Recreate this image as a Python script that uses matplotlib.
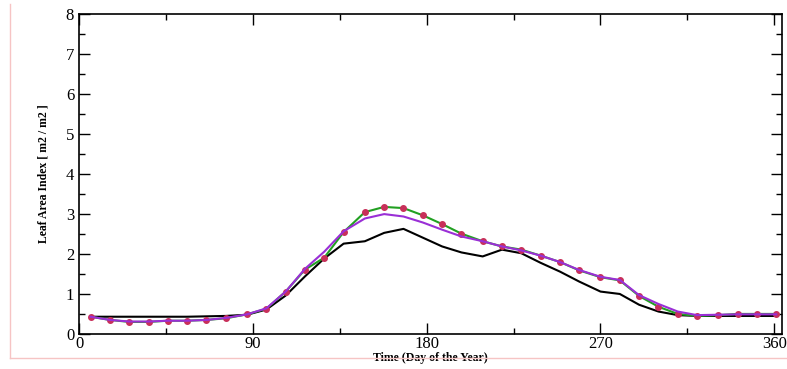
import numpy as np
import matplotlib
matplotlib.use("Agg")
import matplotlib.pyplot as plt
from matplotlib.lines import Line2D
from matplotlib.ticker import MultipleLocator

# dekad mid-points (day of year)
days = [6, 16, 26, 36, 46, 56, 66, 76, 87, 97, 107, 117, 127, 137, 148, 158, 168, 178,
        188, 198, 209, 219, 229, 239, 249, 259, 270, 280, 290, 300, 310, 320, 331, 341, 351, 361]

# black curve
lai_black = [0.42, 0.42, 0.42, 0.42, 0.42, 0.42, 0.43, 0.44, 0.47, 0.60, 0.95, 1.43, 1.88, 2.25,
             2.31, 2.52, 2.62, 2.40, 2.18, 2.03, 1.93, 2.10, 2.01, 1.77, 1.55, 1.30, 1.05, 0.99,
             0.72, 0.55, 0.46, 0.44, 0.44, 0.44, 0.44, 0.44]

# green curve (with red markers)
lai_green = [0.42, 0.34, 0.29, 0.29, 0.32, 0.32, 0.34, 0.38, 0.48, 0.62, 1.05, 1.60, 1.90, 2.54,
             3.04, 3.17, 3.14, 2.96, 2.74, 2.50, 2.31, 2.18, 2.10, 1.95, 1.79, 1.58, 1.41, 1.33,
             0.94, 0.67, 0.49, 0.44, 0.46, 0.49, 0.49, 0.49]

# purple curve
lai_purple = [0.42, 0.34, 0.30, 0.30, 0.32, 0.32, 0.34, 0.39, 0.48, 0.63, 1.05, 1.62, 2.05, 2.56,
              2.88, 2.99, 2.93, 2.78, 2.60, 2.43, 2.31, 2.18, 2.08, 1.95, 1.79, 1.59, 1.42, 1.34,
              0.96, 0.74, 0.55, 0.46, 0.47, 0.48, 0.48, 0.48]

plt.rcParams['font.family'] = ['Liberation Serif', 'DejaVu Serif']

fig = plt.figure(figsize=(7.87, 3.69), dpi=100)
ax = fig.add_axes([0.1004, 0.0962, 0.8933, 0.8658])

ax.plot(days, lai_black, color='black', lw=1.5, zorder=3)
ax.plot(days, lai_green, color='#22a022', lw=1.5, marker='o', ms=4,
        mfc='#c8305a', mec='#c8305a', zorder=4)
ax.plot(days, lai_purple, color='#9a2fd6', lw=1.5, zorder=5)

ax.set_xlim(0, 364)
ax.set_ylim(0, 8)
ax.xaxis.set_major_locator(MultipleLocator(90))
ax.xaxis.set_minor_locator(MultipleLocator(45))
ax.yaxis.set_major_locator(MultipleLocator(1))
ax.yaxis.set_minor_locator(MultipleLocator(0.5))
ax.tick_params(which='both', direction='in', top=True, right=True, labelsize=12, width=1)
ax.tick_params(which='major', length=8)
ax.tick_params(which='minor', length=4)
ax.tick_params(axis='x', pad=2)
for s in ax.spines.values():
    s.set_linewidth(1.2)

ax.set_xlabel('Time (Day of the Year)', fontsize=8.5, fontweight='bold', labelpad=0)
ax.set_ylabel('Leaf Area Index [ m2 / m2 ]', fontsize=8.5, fontweight='bold', labelpad=12)

# faint pink frame of the original figure
fig.add_artist(Line2D([10 / 787, 10 / 787], [1 - 4 / 369, 1 - 358 / 369],
                      transform=fig.transFigure, color='#f6c4c4', lw=1))
fig.add_artist(Line2D([10 / 787, 1.0], [1 - 358 / 369, 1 - 358 / 369],
                      transform=fig.transFigure, color='#f6c4c4', lw=1))

fig.savefig('out.png', dpi=100)
